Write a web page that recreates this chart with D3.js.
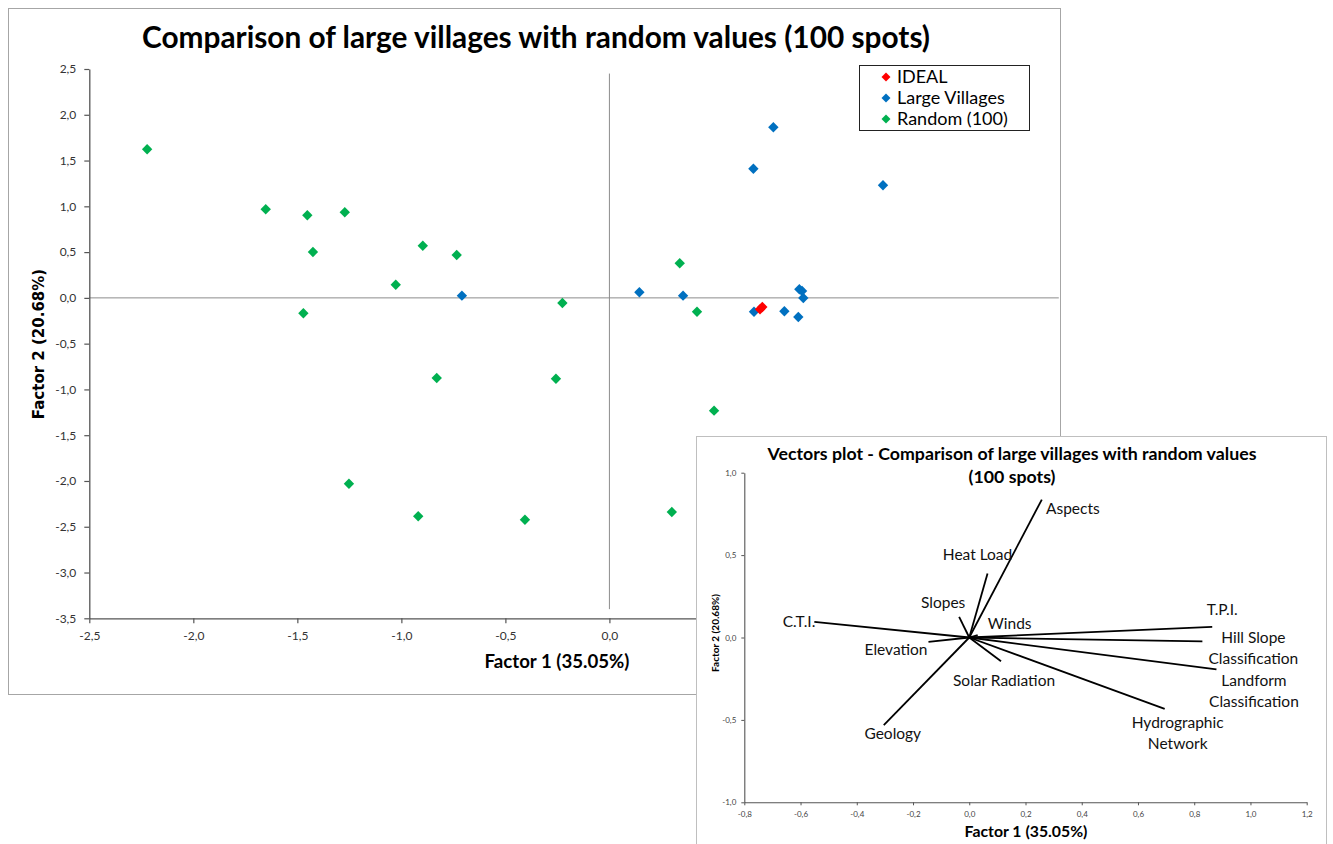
<!DOCTYPE html>
<html>
<head>
<meta charset="utf-8">
<script src="https://cdn.jsdelivr.net/npm/d3@7"></script>
<style>
  html, body { margin: 0; padding: 0; background: #fff; }
  svg { display: block; }
</style>
</head>
<body>
<svg id="chart" width="1333" height="844"></svg>
<script>
// ---- Scatter data: factor scores (Factor 1, Factor 2) ----
const ideal = [[0.724, -0.125], [0.735, -0.100]];
const largeVillages = [
  [0.788, 1.863], [0.692, 1.411], [1.315, 1.230], [0.144, 0.061], [0.354, 0.024],
  [0.695, -0.151], [0.841, -0.146], [0.908, -0.209], [0.913, 0.094], [0.926, 0.075],
  [0.932, -0.001], [-0.709, 0.024]
];
const random100 = [
  [-2.222, 1.623], [-1.652, 0.968], [-1.452, 0.902], [-1.272, 0.935], [-1.425, 0.501],
  [-0.897, 0.570], [-0.734, 0.469], [-1.027, 0.144], [-1.471, -0.168], [-0.226, -0.056],
  [-0.830, -0.875], [-0.257, -0.883], [-1.252, -2.030], [-0.919, -2.386], [-0.406, -2.423],
  [0.503, -1.232], [0.300, -2.339], [0.338, 0.378], [0.421, -0.151]
];
const seriesNames = ["IDEAL", "Large Villages", "Random (100)"];
const mainXTicks = [-2.5, -2.0, -1.5, -1.0, -0.5, 0.0, 0.5, 1.0, 1.5, 2.0];
const mainYTicks = [-3.5, -3.0, -2.5, -2.0, -1.5, -1.0, -0.5, 0.0, 0.5, 1.0, 1.5, 2.0, 2.5];

// ---- Vector (loadings) data ----
const vectorNames = ["C.T.I.", "Elevation", "Slopes", "Heat Load", "Aspects", "Winds",
  "Geology", "Solar Radiation", "T.P.I.", "Hill Slope Classification",
  "Landform Classification", "Hydrographic Network"];
const vectorF1 = [-0.551, -0.145, -0.036, 0.065, 0.258, 0.030, -0.304, 0.113, 0.864, 0.829, 0.879, 0.695];
const vectorF2 = [0.095, -0.027, 0.125, 0.388, 0.837, 0.015, -0.532, -0.144, 0.064, -0.024, -0.194, -0.433];
const vecXTicks = [-0.8, -0.6, -0.4, -0.2, 0.0, 0.2, 0.4, 0.6, 0.8, 1.0, 1.2];
const vecYTicks = [-1.0, -0.5, 0.0, 0.5, 1.0];

// ---- Styling ----
const colors = { "IDEAL": "#ff0000", "Large Villages": "#0070c0", "Random (100)": "#00b050" };
const calibriLike = "Lato, 'Open Sans', sans-serif";
const comma = v => v.toFixed(1).replace(".", ",");
const inset = { left: 696.5, top: 436.5, width: 630, height: 420 };

// label placement relative to each vector tip (pixels)
const labelLayout = {
  "C.T.I.": { dx: 1, dy: 0, anchor: "end", lines: ["C.T.I."] },
  "Elevation": { dx: -1, dy: 8, anchor: "end", lines: ["Elevation"] },
  "Slopes": { dx: -16, dy: -14, anchor: "middle", lines: ["Slopes"] },
  "Heat Load": { dx: -10, dy: -19, anchor: "middle", lines: ["Heat Load"] },
  "Aspects": { dx: 31, dy: 9, anchor: "middle", lines: ["Aspects"] },
  "Winds": { dx: 32, dy: -11, anchor: "middle", lines: ["Winds"] },
  "Geology": { dx: 9, dy: 8, anchor: "middle", lines: ["Geology"] },
  "Solar Radiation": { dx: 3, dy: 19, anchor: "middle", lines: ["Solar Radiation"] },
  "T.P.I.": { dx: 10, dy: -17, anchor: "middle", lines: ["T.P.I."] },
  "Hill Slope Classification": { dx: 51, dy: -4, anchor: "middle", lines: ["Hill Slope", "Classification"] },
  "Landform Classification": { dx: 37.5, dy: 10.7, anchor: "middle", lines: ["Landform", "Classification"] },
  "Hydrographic Network": { dx: 13, dy: 14, anchor: "middle", lines: ["Hydrographic", "Network"] }
};

const svg = d3.select("#chart");

// shrink/grow a text element so it spans the given width
function fitWidth(sel, width) {
  const w = sel.node().getComputedTextLength();
  const fs = parseFloat(sel.attr("font-size"));
  sel.attr("font-size", (fs * width / w).toFixed(2));
  return sel;
}

// =================== Main scatter chart ===================
svg.append("rect").attr("x", 8.5).attr("y", 8.5).attr("width", 1052).attr("height", 686)
  .attr("fill", "#fff").attr("stroke", "#a6a6a6").attr("stroke-width", 1);

const x = d3.scaleLinear().domain([-2.5, 2.0]).range([89.3, 1025.5]);
const y = d3.scaleLinear().domain([-3.5, 2.5]).range([618.3, 69]);

// title
fitWidth(svg.append("text").attr("x", 536).attr("y", 48).attr("text-anchor", "middle")
  .attr("font-family", calibriLike).attr("font-weight", 700).attr("font-size", 27)
  .attr("fill", "#000").text("Comparison of large villages with random values (100 spots)"), 788);

// reference lines through the origin
svg.append("line").attr("x1", x(0)).attr("x2", x(0)).attr("y1", y(2.45)).attr("y2", y(-3.4))
  .attr("stroke", "#8c8c8c").attr("stroke-width", 1);
svg.append("line").attr("x1", x(-2.5)).attr("x2", x(2.16)).attr("y1", y(0)).attr("y2", y(0))
  .attr("stroke", "#8c8c8c").attr("stroke-width", 1);

function styleAxis(g, fs) {
  g.select(".domain").attr("stroke", "#555").attr("stroke-width", 1.3);
  g.selectAll(".tick line").attr("stroke", "#555").attr("stroke-width", 1.2);
  g.selectAll(".tick text").attr("font-family", calibriLike).attr("font-size", fs).attr("fill", "#333");
}

const gx = svg.append("g").attr("transform", `translate(0,${y(-3.5)})`)
  .call(d3.axisBottom(x).tickValues(mainXTicks).tickFormat(comma).tickSize(5).tickSizeOuter(0).tickPadding(8));
styleAxis(gx, 12);
// tick labels that sit beneath the inset panel are covered, so drop them
gx.selectAll(".tick").filter(d => x(d) > inset.left).select("text").remove();
const gy = svg.append("g").attr("transform", `translate(${x(-2.5)},0)`)
  .call(d3.axisLeft(y).tickValues(mainYTicks).tickFormat(comma).tickSize(5).tickSizeOuter(0).tickPadding(8));
styleAxis(gy, 12);

// axis titles
fitWidth(svg.append("text").attr("x", 557).attr("y", 668).attr("text-anchor", "middle")
  .attr("font-family", calibriLike).attr("font-weight", 700).attr("font-size", 17)
  .attr("fill", "#000").text("Factor 1 (35.05%)"), 145);
svg.append("text").attr("transform", "translate(44,344) rotate(-90)").attr("text-anchor", "middle")
  .attr("font-family", "'DejaVu Sans', Verdana, sans-serif").attr("font-weight", 700).attr("font-size", 15)
  .attr("fill", "#000").text("Factor 2 (20.68%)");

// diamond marker: a square turned 45 degrees
const diamond = (size) => d3.symbol().type(d3.symbolSquare).size(size)();
function plotSeries(data, name) {
  svg.append("g").selectAll("path").data(data).join("path")
    .attr("d", diamond(54))
    .attr("transform", d => `translate(${x(d[0])},${y(d[1])}) rotate(45)`)
    .attr("fill", colors[name]);
}
plotSeries(largeVillages, "Large Villages");
plotSeries(random100, "Random (100)");
plotSeries(ideal, "IDEAL");

// legend
const legend = svg.append("g");
legend.append("rect").attr("x", 859.5).attr("y", 65.5).attr("width", 170).attr("height", 65)
  .attr("fill", "#fff").attr("stroke", "#222").attr("stroke-width", 1);
seriesNames.forEach((n, i) => {
  const cy = 77 + i * 21;
  legend.append("path").attr("d", diamond(40)).attr("transform", `translate(886,${cy}) rotate(45)`)
    .attr("fill", colors[n]);
  legend.append("text").attr("x", 897).attr("y", cy).attr("dy", "0.35em")
    .attr("font-family", calibriLike).attr("font-size", 18).attr("fill", "#000").text(n);
});

// =================== Inset: vectors plot ===================
svg.append("rect").attr("x", inset.left).attr("y", inset.top).attr("width", inset.width).attr("height", inset.height)
  .attr("fill", "#fff").attr("stroke", "#bfbfbf").attr("stroke-width", 1);

const vx = d3.scaleLinear().domain([-0.8, 1.2]).range([744.3, 1306.7]);
const vy = d3.scaleLinear().domain([-1.0, 1.0]).range([802.3, 472.7]);

const t1 = svg.append("text").attr("x", 1012).attr("y", 460).attr("text-anchor", "middle")
  .attr("font-family", calibriLike).attr("font-weight", 700).attr("font-size", 16)
  .attr("fill", "#000").text("Vectors plot - Comparison of large villages with random values");
fitWidth(t1, 489);
svg.append("text").attr("x", 1012).attr("y", 483).attr("text-anchor", "middle")
  .attr("font-family", calibriLike).attr("font-weight", 700).attr("font-size", t1.attr("font-size"))
  .attr("fill", "#000").text("(100 spots)");

function styleSmallAxis(g) {
  g.select(".domain").attr("stroke", "#555").attr("stroke-width", 1.1);
  g.selectAll(".tick line").attr("stroke", "#555");
  g.selectAll(".tick text").attr("font-family", calibriLike).attr("font-size", 8).attr("fill", "#444");
}
const vgx = svg.append("g").attr("transform", `translate(0,${vy(-1)})`)
  .call(d3.axisBottom(vx).tickValues(vecXTicks).tickFormat(comma).tickSize(3).tickSizeOuter(0).tickPadding(6));
styleSmallAxis(vgx);
const vgy = svg.append("g").attr("transform", `translate(${vx(-0.8)},0)`)
  .call(d3.axisLeft(vy).tickValues(vecYTicks).tickFormat(comma).tickSize(3).tickSizeOuter(0).tickPadding(5));
styleSmallAxis(vgy);

fitWidth(svg.append("text").attr("x", 1026).attr("y", 837).attr("text-anchor", "middle")
  .attr("font-family", calibriLike).attr("font-weight", 700).attr("font-size", 15)
  .attr("fill", "#000").text("Factor 1 (35.05%)"), 123);
fitWidth(svg.append("text").attr("transform", "translate(719,633) rotate(-90)").attr("text-anchor", "middle")
  .attr("font-family", calibriLike).attr("font-weight", 700).attr("font-size", 11)
  .attr("fill", "#000").text("Factor 2 (20.68%)"), 78);

// vectors from the origin
const vectors = vectorNames.map((n, i) => ({ name: n, f1: vectorF1[i], f2: vectorF2[i] }));
svg.append("g").selectAll("line").data(vectors).join("line")
  .attr("x1", vx(0)).attr("y1", vy(0))
  .attr("x2", d => vx(d.f1)).attr("y2", d => vy(d.f2))
  .attr("stroke", "#000").attr("stroke-width", 1.8);

const labels = svg.append("g");
vectors.forEach(d => {
  const L = labelLayout[d.name];
  const t = labels.append("text")
    .attr("x", vx(d.f1) + L.dx).attr("y", vy(d.f2) + L.dy)
    .attr("text-anchor", L.anchor)
    .attr("font-family", calibriLike).attr("font-size", 15.5).attr("fill", "#111");
  L.lines.forEach((line, k) => {
    t.append("tspan").attr("x", vx(d.f1) + L.dx).attr("dy", k === 0 ? "0.35em" : "1.36em").text(line);
  });
});
</script>
</body>
</html>
